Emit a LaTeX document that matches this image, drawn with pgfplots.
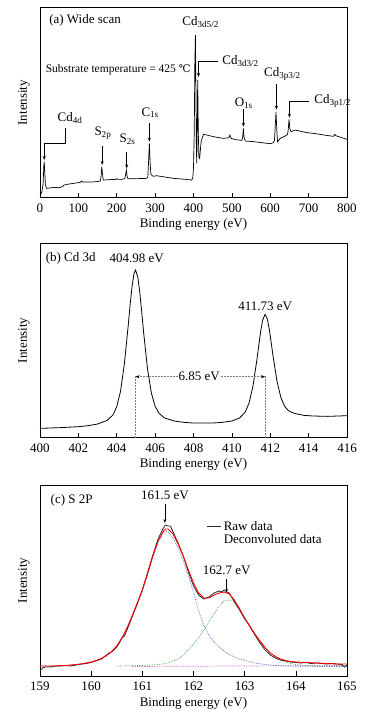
\documentclass[border=0pt]{standalone}
\usepackage{fontspec}
\setmainfont{Liberation Serif}
\newfontfamily\dejaserif{DejaVu Serif}
\usepackage{pgfplots}
\pgfplotsset{compat=1.18}
\usetikzlibrary{arrows.meta}
\newcommand{\fs}{\fontsize{13}{15}\selectfont}
\definecolor{cblue}{RGB}{80,110,215}
\definecolor{cgreen}{RGB}{70,165,70}
\definecolor{cmag}{RGB}{190,80,190}
\pgfplotsset{
  xps/.style={
    scale only axis, width=307pt, anchor=south west,
    axis line style={line width=0.8pt},
    tick style={black, line width=0.6pt}, major tick length=5pt,
    tick align=inside, xtick pos=bottom, ytick=\empty, ymin=0,
    ylabel={Intensity}, xlabel={Binding energy (eV)},
    ylabel style={at={(axis description cs:-0.022,0.5)}, anchor=south, font=\fs},
    xlabel style={at={(axis description cs:0.5,0)}, anchor=center, yshift=-27pt, font=\fs},
    xticklabel style={font=\fs, yshift=-2.5pt},
    /pgf/number format/assume math mode=true,
    /pgf/number format/1000 sep={},
    clip=false,
  }
}
\tikzset{ann/.style={line width=0.6pt, -{Stealth[length=4pt,width=3pt]}}}
\begin{document}
\begin{tikzpicture}[x=1pt,y=1pt]
\useasboundingbox (0,0) rectangle (370,717);
% ---------------- (a) ----------------
\begin{axis}[xps, at={(40pt,519.3pt)}, height=190pt,
  xmin=0, xmax=800, ymax=570, xtick={0,100,...,800}]
\addplot[black, line width=0.7pt] table {
0 13
2 10
5 18
8 40
10 95
11 108
12 88
14 40
17 28
25 29
35 31
50 30
58 33
63 38
70 40
87 43
105 46
108 50
111 47
130 47
148 48
157 50
159 62
161 93
163 70
165 53
180 54
198 55
200 57
202 55
215 55
221 58
223 68
225 83
227 64
229 57
250 57
278 58
281 62
283 110
285 163
287 105
289 70
295 64
304 66
320 63
348 58
380 55
395 53
398 58
400 90
402 200
403.5 400
405 488
406.5 300
407.5 150
408.5 103
409.5 200
411 353
412.5 200
414 123
416 118
420 170
426 190
435 188
452 183
478 178
492 180
495 188
498 178
510 174
526 172
528 180
530 208
532 180
535 170
557 168
600 162
608 165
611 172
613 215
615 257
617 205
619 168
622 172
626 178
639 185
645 190
647 205
649 235
651 208
654 198
665 203
696 195
713 193
740 188
765 184
768 190
771 186
800 175
};
\node[anchor=west, font=\fs] at (axis cs:15,533) {(a) Wide scan};
\node[anchor=west, font=\fontsize{11.5}{13}\selectfont] at (axis cs:6,383) {Substrate temperature = 425 {\dejaserif\fontsize{10.5}{12}\selectfont ℃}};
\node[anchor=west, font=\fs] at (axis cs:362,527) {Cd\textsubscript{3d5/2}};
\node[anchor=west, font=\fs] at (axis cs:466,410) {Cd\textsubscript{3d3/2}};
\draw[ann] (axis cs:463,410) -- (axis cs:413,410) -- (axis cs:413,362);
\node[anchor=west, font=\fs] at (axis cs:575,370) {Cd\textsubscript{3p3/2}};
\draw[ann] (axis cs:616,340) -- (axis cs:616,264);
\node[font=\fs] at (axis cs:531,284) {O\textsubscript{1s}};
\draw[ann] (axis cs:530,266) -- (axis cs:530,213);
\node[anchor=west, font=\fs] at (axis cs:706,289) {Cd\textsubscript{3p1/2}};
\draw[ann] (axis cs:702,289) -- (axis cs:650,289) -- (axis cs:650,240);
\node[anchor=west, font=\fs] at (axis cs:37,240) {Cd\textsubscript{4d}};
\draw[ann] (axis cs:65,210) -- (axis cs:65,163) -- (axis cs:11,163) -- (axis cs:11,113);
\node[font=\fs] at (axis cs:164,194) {S\textsubscript{2p}};
\draw[ann] (axis cs:162,156) -- (axis cs:162,98);
\node[font=\fs] at (axis cs:228,176) {S\textsubscript{2s}};
\draw[ann] (axis cs:226,137) -- (axis cs:226,88);
\node[font=\fs] at (axis cs:287,255) {C\textsubscript{1s}};
\draw[ann] (axis cs:285,225) -- (axis cs:285,168);
\end{axis}
% ---------------- (b) ----------------
\begin{axis}[xps, at={(40pt,279.3pt)}, height=194.7pt,
  xmin=400, xmax=416, ymax=584, xtick={400,402,...,416}]
\addplot[black, line width=0.8pt] table {
400.0 28
401.0 30
402.0 33
402.5 36
403.0 41
403.5 52
403.8 68
404.0 93
404.2 140
404.4 223
404.6 338
404.7 400
404.8 455
404.9 493
404.98 503
405.1 481
405.2 436
405.3 378
405.4 316
405.6 208
405.8 135
406.0 94
406.2 73
406.5 59
407.0 50
407.5 46
408.0 44
409.0 44
409.5 46
410.0 50
410.4 59
410.7 77
410.9 105
411.1 155
411.3 232
411.4 276
411.5 318
411.6 352
411.73 370
411.85 356
411.95 325
412.05 285
412.15 243
412.35 170
412.55 121
412.75 94
412.95 81
413.25 73
413.75 67
414.25 65
415.0 64
416.0 66
};
\draw[gray, densely dotted, line width=0.5pt] (axis cs:404.98,0) -- (axis cs:404.98,185);
\draw[gray, densely dotted, line width=0.5pt] (axis cs:411.73,0) -- (axis cs:411.73,185);
\draw[gray, densely dotted, line width=0.5pt, {Stealth[length=4pt,width=3pt,black]}-{Stealth[length=4pt,width=3pt,black]}] (axis cs:404.98,183) -- (axis cs:411.73,183);
\node[fill=white, inner sep=1pt, font=\fs] at (axis cs:408.3,183) {6.85 eV};
\node[anchor=west, font=\fs] at (axis cs:400.12,538) {(b) Cd 3d};
\node[font=\fs] at (axis cs:405.04,538) {404.98 eV};
\node[font=\fs] at (axis cs:411.74,393) {411.73 eV};
\end{axis}
% ---------------- (c) ----------------
\begin{axis}[xps, at={(40pt,41pt)}, height=191pt,
  xmin=159, xmax=165, ymax=191, xtick={159,...,165},
  legend style={draw=none, fill=none, at={(axis cs:162.26,157)}, anchor=north west,
    font=\fs, inner sep=0pt, row sep=-1pt, cells={anchor=west}},
  legend image code/.code={\draw[#1] (0pt,0pt) -- (14pt,0pt);}]
\addplot[cmag, densely dotted, line width=0.7pt, forget plot] table {
160.8 9.5
165.0 10.5
};
\addplot[cgreen, densely dotted, line width=0.7pt, forget plot] table {
160.5 10
161.0 10.5
161.2 11
161.4 12
161.5 13
161.6 15
161.7 17
161.8 21
161.9 26
162.0 32
162.1 38
162.2 46
162.3 54
162.4 62
162.5 70
162.6 75
162.68 76
162.8 74
162.9 68
163.0 58
163.1 49
163.2 41
163.3 34
163.4 28
163.5 23
163.6 19
163.7 16
163.8 14
163.9 12.5
164.0 11.5
164.2 10.5
164.5 10
165.0 10
};
\addplot[cblue, densely dotted, line width=0.7pt, forget plot] table {
159.0 10
159.2 10
159.4 10
159.6 10.5
159.8 11.5
160.0 13.5
160.1 15
160.2 17
160.3 20
160.4 24
160.5 30
160.6 37.5
160.7 47.5
160.8 60
160.9 72
161.0 85
161.1 101
161.2 118
161.3 132
161.4 142
161.45 145
161.5 144
161.6 138
161.7 128
161.8 115
161.9 100
162.0 84
162.1 65
162.2 51
162.3 41
162.4 34
162.5 29
162.6 25
162.7 21.5
162.8 19
162.9 17
163.0 15.5
163.2 13
163.4 11.5
163.6 10.5
163.8 10
164.0 9.8
164.5 9.5
165.0 9.5
};
\addplot[black!85, line width=0.8pt] table {
159.0 5
159.05 8
159.1 9
159.2 9
159.3 10
159.4 10
159.5 10.5
159.6 10
159.7 11
159.8 12
159.9 12.5
160.0 13.5
160.1 15.5
160.2 17
160.3 21
160.35 23
160.4 24
160.5 29
160.55 33
160.6 38
160.65 40
160.7 46
160.8 59
160.9 72
161.0 86
161.1 103
161.2 120
161.3 136
161.4 147
161.45 151
161.5 150
161.55 150
161.6 144
161.7 133
161.8 120
161.9 104
162.0 90
162.1 81
162.2 77
162.3 79
162.4 83
162.5 85
162.55 84
162.6 86
162.65 84
162.7 83
162.8 74
162.9 66
163.0 57
163.1 50
163.2 41
163.3 33
163.4 26
163.5 21
163.6 18
163.7 16
163.8 15
163.9 14
164.0 13.5
164.1 13
164.2 13.5
164.3 12.5
164.4 13
164.5 12.5
164.6 12
164.7 12.5
164.8 12
164.9 11.5
164.95 9
165.0 11
};
\addlegendentry{Raw data}
\addplot[red, line width=0.9pt, forget plot] table {
159.0 10
159.1 10
159.2 10
159.3 10
159.4 10.5
159.5 10.5
159.6 11
159.7 11.5
159.8 12
159.9 13
160.0 14
160.1 15.5
160.2 17.5
160.3 20.5
160.4 24.5
160.5 30
160.6 38
160.7 48
160.8 60
160.9 73
161.0 86
161.1 102
161.2 119
161.3 134
161.4 144
161.45 147
161.5 147
161.6 142
161.7 132
161.8 120
161.9 106
162.0 93
162.1 83
162.2 78
162.3 78
162.4 81
162.5 83
162.6 84
162.7 82
162.8 76
162.9 67
163.0 58
163.1 50
163.2 42
163.3 35
163.4 28.5
163.5 23
163.6 19.5
163.7 17
163.8 15.5
163.9 14.5
164.0 14
164.2 13.5
164.4 13
164.6 12.5
164.8 12
165.0 12
};
\addlegendimage{opacity=0}
\addlegendentry{Deconvoluted data}
\node[anchor=west, font=\fs] at (axis cs:159.14,176) {(c) S 2P};
\node[font=\fs] at (axis cs:161.44,181) {161.5 eV};
\draw[ann] (axis cs:161.44,172) -- (axis cs:161.44,153);
\node[font=\fs] at (axis cs:162.65,106) {162.7 eV};
\draw[line width=0.6pt, -{Stealth[length=3pt,width=2.5pt]}] (axis cs:162.65,97) -- (axis cs:162.65,84);
\end{axis}
\end{tikzpicture}
\end{document}
